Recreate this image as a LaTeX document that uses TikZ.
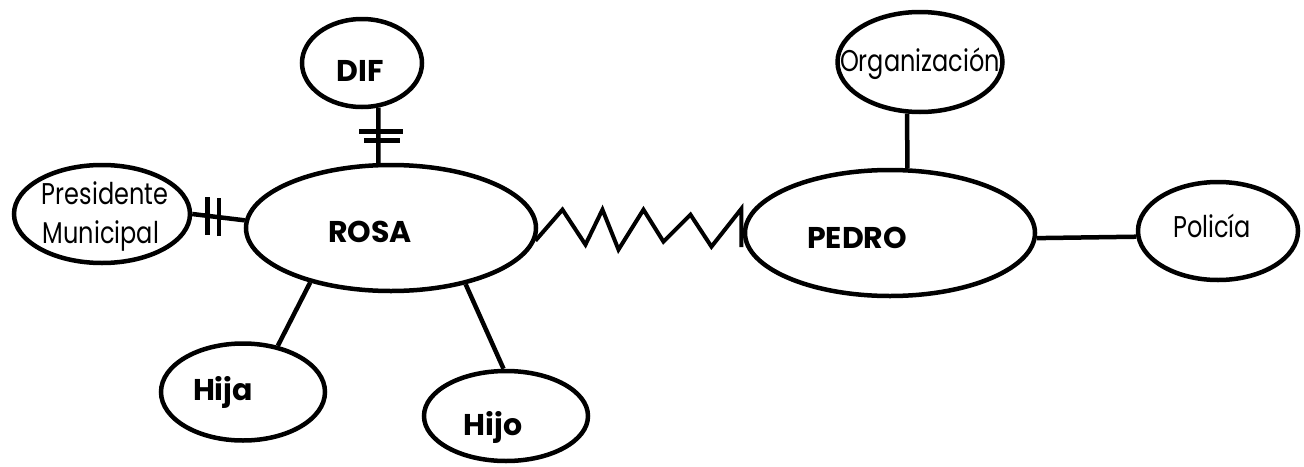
\documentclass[tikz,border=0pt]{standalone}
\usepackage{fontspec}
\setmainfont{Poppins}
\newfontfamily\thinfont[FakeStretch=0.8]{Poppins}
\usetikzlibrary{shapes.geometric,decorations.markings}
\begin{document}
\begin{tikzpicture}[x=1pt,y=1pt,
  ell/.style={ellipse,draw,line width=4.5pt,inner sep=0pt},
  boldlbl/.style={anchor=base,inner sep=0pt,font=\fontsize{30}{30}\selectfont\bfseries},
  thinlbl/.style={anchor=base,inner sep=0pt,font=\fontsize{30}{30}\selectfont\thinfont},
  conn/.style={line width=4.5pt},
  zig/.style={line width=4pt,line join=miter},
  hticks/.style 2 args={decoration={markings,
      mark=at position #1 with {\pgftransformresetnontranslations\draw[line width=4.5pt] (-19,0) -- (25,0);},
      mark=at position #2 with {\pgftransformresetnontranslations\draw[line width=4.5pt] (-14,0) -- (22,0);}},
    postaction={decorate}},
  vticks/.style 2 args={decoration={markings,
      mark=at position #1 with {\pgftransformresetnontranslations\draw[line width=4.5pt] (0,-19) -- (0,19);},
      mark=at position #2 with {\pgftransformresetnontranslations\draw[line width=4.5pt] (0,-19) -- (0,19);}},
    postaction={decorate}}
]
\useasboundingbox (0,0) rectangle (1304,-466);

% ellipses
\node[ell,minimum width=120,minimum height=88] (dif) at (362,-63) {};
\node[ell,minimum width=290,minimum height=126] (rosa) at (391,-228) {};
\node[ell,minimum width=176,minimum height=98] (pres) at (102,-214) {};
\node[ell,minimum width=164,minimum height=97] (hija) at (243,-392) {};
\node[ell,minimum width=164,minimum height=90] (hijo) at (506,-416) {};
\node[ell,minimum width=165,minimum height=100] (org) at (920,-62) {};
\node[ell,minimum width=290,minimum height=126] (pedro) at (890,-233) {};
\node[ell,minimum width=160,minimum height=98] (pol) at (1218,-231) {};

% labels
\node[boldlbl] (difT) at (360,-81) {DIF};
\node[boldlbl] (rosaT) at (370,-242) {ROSA};
\node[boldlbl] (pedroT) at (857,-248) {PEDRO};
\node[boldlbl] (hijaT) at (223,-400) {Hija};
\node[boldlbl] (hijoT) at (493,-435) {Hijo};
\node[thinlbl] (presT1) at (105,-204) {Presidente};
\node[thinlbl] (presT2) at (101,-243) {Municipal};
\node[thinlbl] (orgT) at (920,-71) {Organización};
\node[thinlbl] (polT) at (1212,-237) {Policía};

% connectors
\draw[conn,hticks={0.43}{0.59}] (dif.-70) -- (rosa.101);
\draw[conn,vticks={0.29}{0.51}] (pres.0) -- (rosa.177);
\draw[conn] (rosa.214) -- (hija.53);
\draw[conn] (rosa.-37) -- (hijo.93);
\draw[conn] (org.-104) -- (pedro.75);
\draw[conn] (pedro.-2) -- (pol.184);
\draw[zig] (rosa.-5) -- ++(27,31) -- ++(23,-35) -- ++(17,35) -- ++(16,-40)
  -- ++(25,40) -- ++(20,-32) -- ++(27,27) -- ++(21,-32) -- ++(30,38)
  coordinate (zend) -- (zend |- pedro.west) -- ++(0,-14);
\end{tikzpicture}
\end{document}
